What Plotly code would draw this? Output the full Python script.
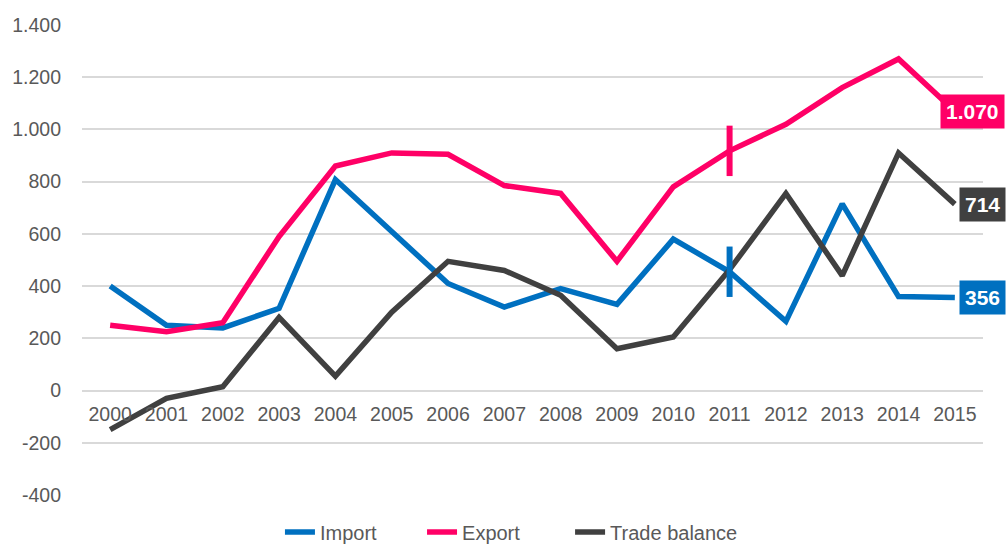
import plotly.graph_objects as go

years = ["2000", "2001", "2002", "2003", "2004", "2005", "2006", "2007",
         "2008", "2009", "2010", "2011", "2012", "2013", "2014", "2015"]
import_vals = [400, 250, 240, 315, 808, 610, 410, 320, 390, 330, 580, 455, 265, 715, 360, 356]
export_vals = [250, 225, 260, 590, 860, 910, 905, 785, 755, 495, 780, 918, 1020, 1160, 1270, 1070]
balance_vals = [-150, -30, 15, 280, 55, 300, 495, 460, 365, 160, 205, 463, 755, 440, 910, 714]

series_names = ["Import", "Export", "Trade balance"]
colors = ["#0070C0", "#FF0066", "#404040"]
end_labels = ["356", "1.070", "714"]
label_shift = [-24, -43, -24]
legend_ids = ["legend", "legend2", "legend3"]
legend_x = [0.2197, 0.3774, 0.5417]

y_tickvals = [-400, -200, 0, 200, 400, 600, 800, 1000, 1200, 1400]
y_ticktext = ["-400", "-200", "0", "200", "400", "600", "800", "1.000", "1.200", "1.400"]

highlight_idx = 11

fig = go.Figure()
all_vals = [import_vals, export_vals, balance_vals]
for name, vals, col, lg in zip(series_names, all_vals, colors, legend_ids):
    fig.add_trace(go.Scatter(x=years, y=vals, mode="lines", name=name, legend=lg,
                             line=dict(color=col, width=5.5)))

for vals, col in zip(all_vals[:2], colors[:2]):
    fig.add_trace(go.Scatter(x=[years[highlight_idx]], y=[vals[highlight_idx]], mode="markers",
                             showlegend=False, hoverinfo="skip",
                             marker=dict(symbol="line-ns", size=36,
                                         line=dict(width=6, color=col))))

for vals, col, txt, sh in zip(all_vals, colors, end_labels, label_shift):
    fig.add_annotation(x=1, y=vals[-1], xref="paper", yref="y", text="<b>%s</b>" % txt,
                       showarrow=False, xanchor="left", yanchor="middle", xshift=sh,
                       bgcolor=col, borderpad=5,
                       font=dict(color="white", size=21, family="Liberation Sans, Arial"))

legend_style = dict(orientation="h", xanchor="left", yref="container", y=0.024,
                    yanchor="middle", font=dict(size=20, color="#595959"),
                    bgcolor="rgba(0,0,0,0)")

fig.update_layout(
    width=1008, height=545,
    margin=dict(l=82, r=25, t=25, b=50),
    paper_bgcolor="white", plot_bgcolor="white",
    font=dict(family="Liberation Sans, Arial", color="#595959", size=19.5),
    showlegend=True,
    legend=dict(x=legend_x[0], **legend_style),
    legend2=dict(x=legend_x[1], **legend_style),
    legend3=dict(x=legend_x[2], **legend_style),
)
fig.update_xaxes(type="category", range=[-0.5, 15.5], showgrid=False, showline=False,
                 ticks="", anchor="free", position=400 / 1800, ticklabelstandoff=10,
                 automargin=False, tickfont=dict(size=19.5, color="#595959"))
fig.update_yaxes(range=[-400, 1400], tickvals=y_tickvals, ticktext=y_ticktext,
                 showgrid=True, gridcolor="#D9D9D9", gridwidth=1.5,
                 zeroline=True, zerolinecolor="#D9D9D9", zerolinewidth=1.5,
                 showline=False, ticks="", ticklabelstandoff=20, automargin=False,
                 tickfont=dict(size=19.5, color="#595959"))

fig.write_html("out.html", config={"displayModeBar": False},
               post_script="document.body.style.margin='0px';document.body.style.overflow='hidden';")
